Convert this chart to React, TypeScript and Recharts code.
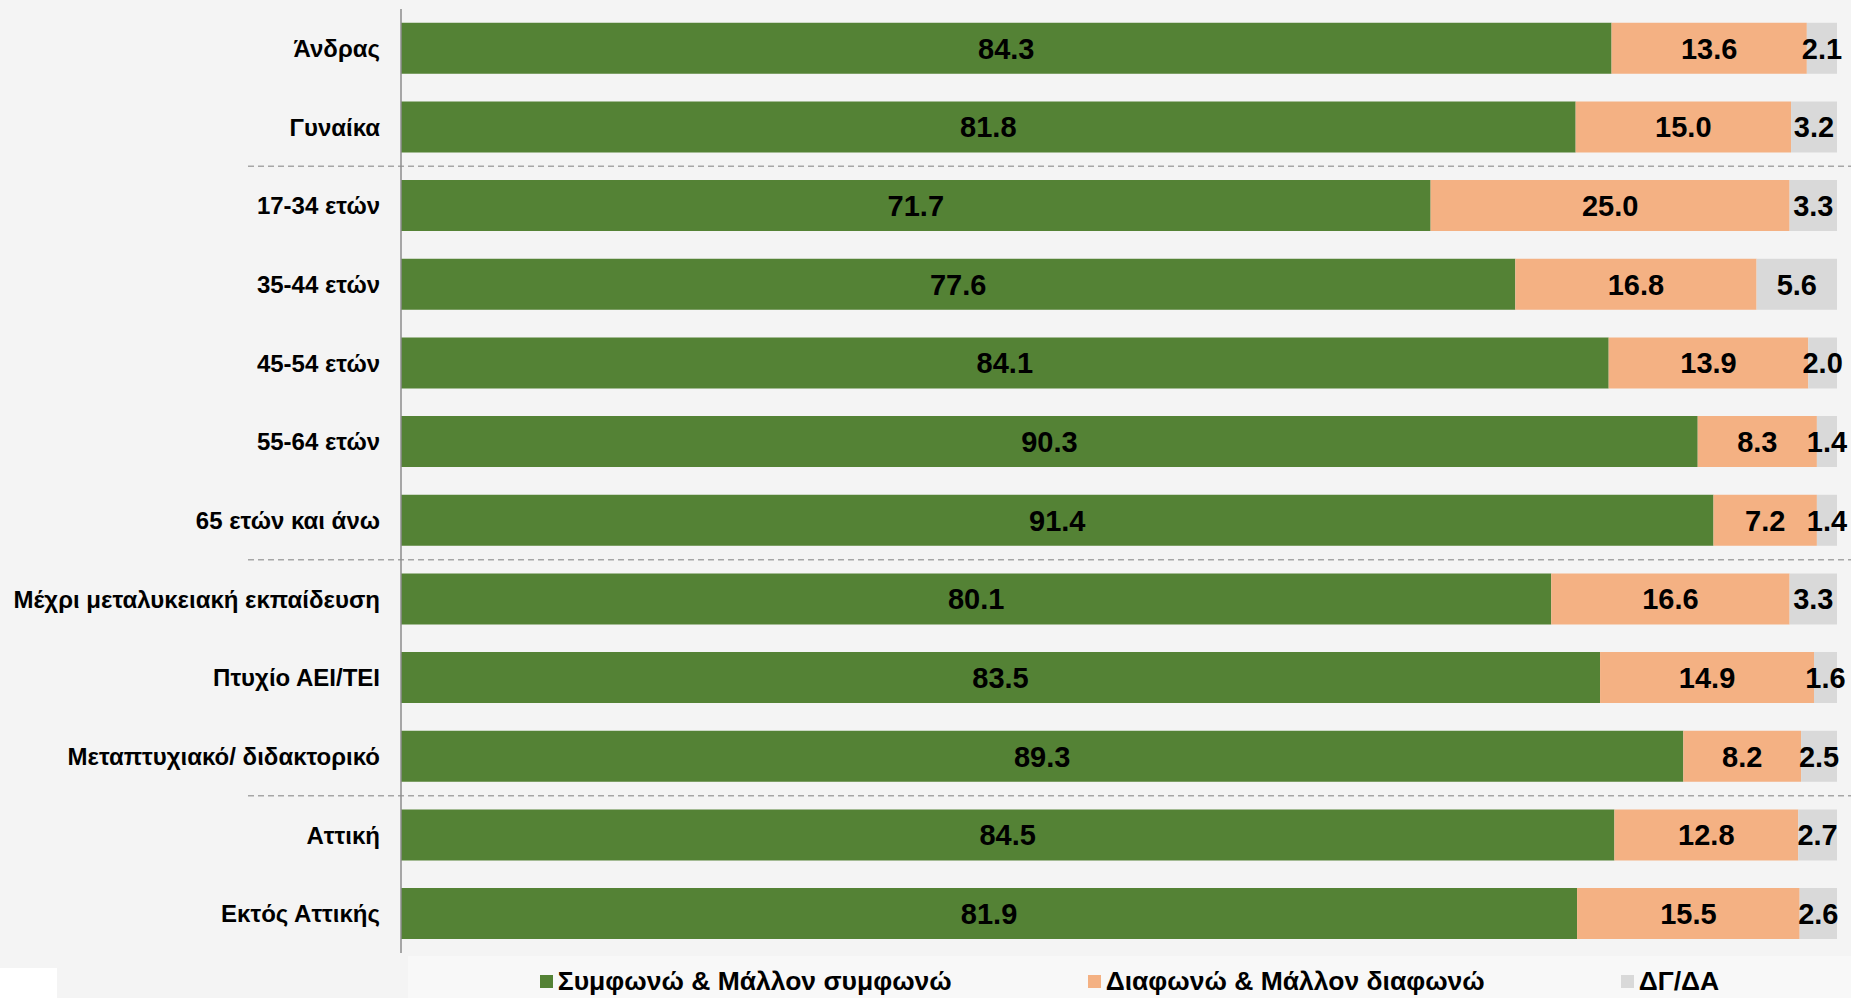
import React from 'react';
import { BarChart, Bar, XAxis, YAxis, LabelList, ReferenceLine, Legend } from 'recharts';

const categories = [
  'Άνδρας',
  'Γυναίκα',
  '17-34 ετών',
  '35-44 ετών',
  '45-54 ετών',
  '55-64 ετών',
  '65 ετών και άνω',
  'Μέχρι μεταλυκειακή εκπαίδευση',
  'Πτυχίο ΑΕΙ/ΤΕΙ',
  'Μεταπτυχιακό/ διδακτορικό',
  'Αττική',
  'Εκτός Αττικής',
];
const agree = [84.3, 81.8, 71.7, 77.6, 84.1, 90.3, 91.4, 80.1, 83.5, 89.3, 84.5, 81.9];
const disagree = [13.6, 15.0, 25.0, 16.8, 13.9, 8.3, 7.2, 16.6, 14.9, 8.2, 12.8, 15.5];
const dkna = [2.1, 3.2, 3.3, 5.6, 2.0, 1.4, 1.4, 3.3, 1.6, 2.5, 2.7, 2.6];
const seriesNames = ['Συμφωνώ & Μάλλον συμφωνώ', 'Διαφωνώ & Μάλλον διαφωνώ', 'ΔΓ/ΔΑ'];
const seriesKeys = ['agree', 'disagree', 'dkna'];
const colors = ['#548235', '#F4B183', '#D9D9D9'];
const separatorsAfter = [1, 6, 9];

const data = categories.map((name, i) => ({ name, agree: agree[i], disagree: disagree[i], dkna: dkna[i] }));

const W = 1851;
const H = 998;
const FONT = '"Liberation Sans", Arial, sans-serif';
const MARGIN = { top: 9, right: 14, bottom: 3, left: 0 };
const LEGEND_H = 42;
const PLOT_H = H - MARGIN.top - MARGIN.bottom - LEGEND_H;
const HALF_BAND = PLOT_H / categories.length / 2;

const fmt = (v: any) => Number(v).toFixed(1);

const SepLine = (props: any) => (
  <line
    x1={248}
    x2={W}
    y1={props.y1 + HALF_BAND}
    y2={props.y2 + HALF_BAND}
    stroke="#A6A6A6"
    strokeWidth={1.5}
    strokeDasharray="6 4"
  />
);

const renderLegend = () => (
  <div
    style={{
      display: 'flex',
      justifyContent: 'center',
      alignItems: 'center',
      gap: 136,
      height: LEGEND_H,
      paddingTop: 8,
      boxSizing: 'border-box',
      background: '#F8F8F8',
      fontFamily: FONT,
      fontWeight: 700,
      fontSize: 26.5,
      color: '#000',
    }}
  >
    {seriesNames.map((n, i) => (
      <div key={n} style={{ display: 'flex', alignItems: 'center', whiteSpace: 'nowrap' }}>
        <span style={{ display: 'inline-block', width: 13, height: 13, background: colors[i], marginRight: 5 }} />
        {n}
      </div>
    ))}
  </div>
);

export default function App() {
  return (
    <div style={{ position: 'relative', width: W, height: H, background: '#F4F4F4', overflow: 'hidden' }}>
      <style>{`body{margin:0;}`}</style>
      <BarChart
        width={W}
        height={H}
        data={data}
        layout="vertical"
        margin={MARGIN}
        barCategoryGap="17.5%"
      >
        <XAxis type="number" domain={[0, 100]} tick={false} tickLine={false} height={0} axisLine={{ stroke: '#8C8C8C', strokeWidth: 1.5 }} />
        <YAxis
          type="category"
          dataKey="name"
          width={401}
          tickLine={false}
          tickMargin={15}
          axisLine={{ stroke: '#8C8C8C', strokeWidth: 1.5 }}
          tick={{ fill: '#000', fontSize: 24, fontWeight: 700, fontFamily: FONT }}
          interval={0}
        />
        {separatorsAfter.map((idx) => (
          <ReferenceLine key={idx} y={categories[idx]} shape={SepLine} ifOverflow="visible" />
        ))}
        {seriesKeys.map((k, i) => (
          <Bar key={k} dataKey={k} name={seriesNames[i]} stackId="s" fill={colors[i]} isAnimationActive={false}>
            <LabelList
              dataKey={k}
              position="center"
              formatter={fmt}
              fill="#000"
              fontSize={29}
              fontWeight={700}
              fontFamily={FONT}
            />
          </Bar>
        ))}
        <Legend
          verticalAlign="bottom"
          content={renderLegend}
          wrapperStyle={{ left: 408, width: W - 408, top: H - LEGEND_H, height: LEGEND_H }}
        />
      </BarChart>
      <div style={{ position: 'absolute', left: 0, top: 968, width: 57, height: 30, background: '#FFFFFF' }} />
    </div>
  );
}
